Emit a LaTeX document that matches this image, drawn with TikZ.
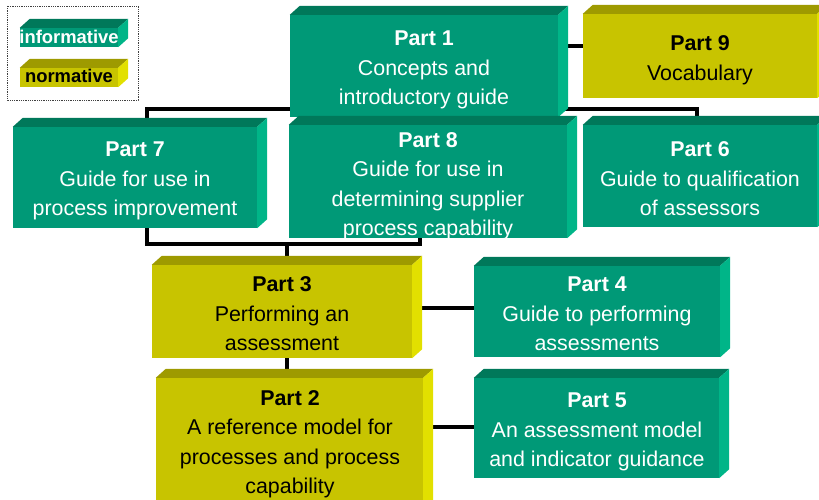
\documentclass[tikz,border=0pt]{standalone}
\usepackage{fontspec}
\setmainfont{Liberation Sans}
\usetikzlibrary{fit,backgrounds}
\definecolor{gfront}{RGB}{0,153,119}
\definecolor{gtop}{RGB}{0,120,90}
\definecolor{gside}{RGB}{0,181,136}
\definecolor{yfront}{RGB}{200,196,0}
\definecolor{ytop}{RGB}{158,154,0}
\definecolor{yside}{RGB}{226,224,0}
\tikzset{
  frontg/.style={fill=gfront, inner sep=0pt, draw=none},
  fronty/.style={fill=yfront, inner sep=0pt, draw=none},
  conn/.style={line width=4pt, black},
  txtg/.style={text=white, align=center, inner sep=0pt, font=\fontsize{21.4}{29.5}\selectfont},
  txty/.style={text=black, align=center, inner sep=0pt, font=\fontsize{21.4}{29.5}\selectfont},
  legtxt/.style={anchor=base, inner sep=0pt, font=\fontsize{18.4}{20}\selectfont\bfseries},
  legframe/.style={densely dotted, line width=0.8pt, black!75}
}
\newcommand\cubefaces[3]{%
  \fill[#2] (#1.north west) -- ++(10,-9) -- ([shift={(10,-9)}]#1.north east) -- (#1.north east) -- cycle;
  \fill[#3] (#1.north east) -- ++(10,-9) -- ([shift={(10,-9)}]#1.south east) -- (#1.south east) -- cycle;
}
\begin{document}
\begin{tikzpicture}[x=1pt,y=-1pt]
\useasboundingbox (0,0) rectangle (819,500);
\clip (0,0) rectangle (819,500);
% legend
\draw[legframe] (7,6) rectangle (138,100);
\node[fit={(20,28)(118,47)}, frontg] (lgi) {};
\cubefaces{lgi}{gtop}{gside}
\node[fit={(20,68)(118,87)}, fronty] (lgn) {};
\cubefaces{lgn}{ytop}{yside}
\node[legtxt, text=white] (li) at (69,44) {informative};
\node[legtxt, text=black] (ln) at (69,83) {normative};
% boxes
\node[fit={(290,15)(558,117)}, frontg] (p1) {};
\cubefaces{p1}{gtop}{gside}
\node[fit={(583,14)(817,98)}, fronty] (p9) {};
\cubefaces{p9}{ytop}{yside}
\node[fit={(13,127)(257,228)}, frontg] (p7) {};
\cubefaces{p7}{gtop}{gside}
\node[fit={(289,125)(567,238)}, frontg] (p8) {};
\cubefaces{p8}{gtop}{gside}
\node[fit={(583,125)(817,227)}, frontg] (p6) {};
\cubefaces{p6}{gtop}{gside}
\node[fit={(152,265)(412,358)}, fronty] (p3) {};
\cubefaces{p3}{ytop}{yside}
\node[fit={(474,266)(720,357)}, frontg] (p4) {};
\cubefaces{p4}{gtop}{gside}
\node[fit={(474,378)(719,478)}, frontg] (p5) {};
\cubefaces{p5}{gtop}{gside}
\node[fit={(156,378)(423,520)}, fronty] (p2) {};
\cubefaces{p2}{ytop}{yside}
% texts
\node[txtg] (t1) at (424,70.2) {\textbf{Part 1}\\Concepts and\\introductory guide};
\node[txty] (t9) at (700,60.5) {\textbf{Part 9}\\Vocabulary};
\node[txtg] (t7) at (135,181.2) {\textbf{Part 7}\\Guide for use in\\process improvement};
\node[txtg] (t8) at (428,186) {\textbf{Part 8}\\Guide for use in\\determining supplier\\process capability};
\node[txtg] (t6) at (700,179) {\textbf{Part 6}\\Guide to qualification\\of assessors};
\node[txty] (t3) at (282,314) {\textbf{Part 3}\\Performing an\\assessment};
\node[txtg] (t4) at (597,314) {\textbf{Part 4}\\Guide to performing\\assessments};
\node[txtg] (t5) at (597,432.2) {\textbf{Part 5}\\An assessment model\\and indicator guidance};
\node[txty] (t2) at (290,444) {\textbf{Part 2}\\A reference model for\\processes and process\\capability};
% connectors
\begin{scope}[on background layer]
  \coordinate (tl) at (147,109);
  \coordinate (tr) at (697,109);
  \draw[conn] (p7.north -| tl) -- (tl) -- (tr) -- (p6.north -| tr);
  \coordinate (j18) at (420,0);
  \draw[conn] (p1.south -| j18) -- (p8.north -| j18);
  \coordinate (j19) at (0,46);
  \draw[conn] (p1.east |- j19) -- (p9.west |- j19);
  \coordinate (bl) at (147,244);
  \coordinate (br) at (420,244);
  \coordinate (bm) at (287,244);
  \draw[conn] (p7.south -| bl) -- (bl) -- (br) -- (p8.south -| br);
  \draw[conn] (bm) -- (p3.north -| bm);
  \draw[conn] (p3.south -| bm) -- (p2.north -| bm);
  \coordinate (j34) at (0,308);
  \draw[conn] (p3.east |- j34) -- (p4.west |- j34);
  \coordinate (j25) at (0,427);
  \draw[conn] (p2.east |- j25) -- (p5.west |- j25);
\end{scope}
\end{tikzpicture}
\end{document}
